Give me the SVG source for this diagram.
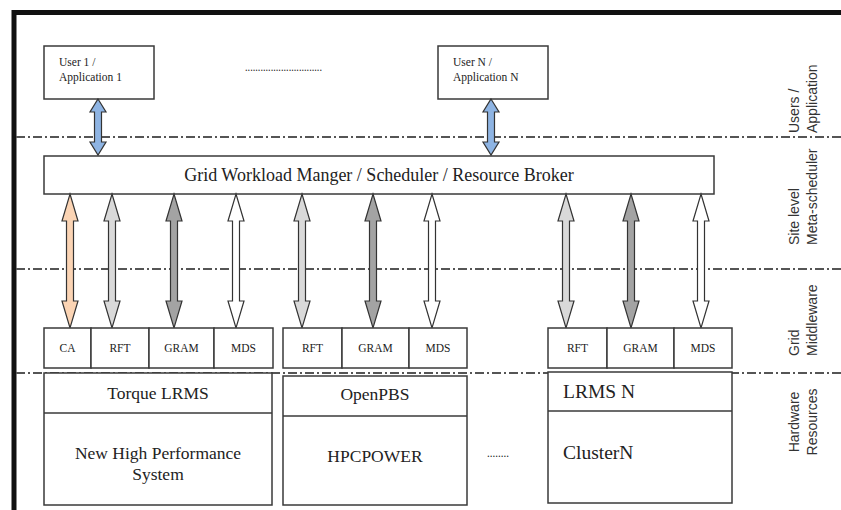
<svg xmlns="http://www.w3.org/2000/svg" width="841" height="510" viewBox="0 0 841 510">
<style>
.box{fill:#fff;stroke:#3a3a3a;stroke-width:1.5}
.sep{fill:none;stroke:#555;stroke-width:2;stroke-dasharray:9 3 2 3}
.t{font-family:"Liberation Serif","Times New Roman",serif;fill:#222}
.s{font-size:11.5px}
.m{font-size:11.5px;text-anchor:middle}
.l{font-size:17.5px;text-anchor:middle}
.lrms{font-size:19.5px}
.side{font-family:"Liberation Sans",Arial,sans-serif;font-size:14px;fill:#333}
.arr{stroke:#333;stroke-width:1.2;stroke-linejoin:miter}
.peach{fill:#fbd4b4}.lg{fill:#d9d9d9}.dg{fill:#a3a3a3}.wh{fill:#fff}.bl{fill:#8eb4e3}
</style>
<defs>
<path id="garrow" d="M0,0 L8,27 L3.5,27 L3.5,107 L8,107 L0,134 L-8,107 L-3.5,107 L-3.5,27 L-8,27 Z"/>
<path id="barrow" d="M0,0 L8,13 L3.5,13 L3.5,43 L8,43 L0,56 L-8,43 L-3.5,43 L-3.5,13 L-8,13 Z"/>
</defs>
<rect width="841" height="510" fill="#fff"/>
<path d="M14,510 V12.5 H841" fill="none" stroke="#111" stroke-width="5"/>
<g id="layer-separators">
<line class="sep" x1="16" y1="137" x2="841" y2="137"/>
<line class="sep" x1="16" y1="269" x2="841" y2="269"/>
<line class="sep" x1="16" y1="373" x2="841" y2="373"/>
</g>
<g id="user1">
<rect class="box" x="44" y="46" width="110" height="53"/>
<text class="t s" x="59" y="66">User 1 /</text>
<text class="t s" x="59" y="81">Application 1</text>
</g>
<g id="users-ellipsis">
<text class="t s" x="245" y="71" textLength="77" lengthAdjust="spacingAndGlyphs">..............................</text>
</g>
<g id="userN">
<rect class="box" x="438" y="46" width="110" height="53"/>
<text class="t s" x="453" y="66">User N /</text>
<text class="t s" x="453" y="81">Application N</text>
</g>
<g id="broker">
<rect class="box" x="44" y="156" width="670" height="38"/>
<text class="t" x="379" y="181" font-size="18" text-anchor="middle">Grid Workload Manger / Scheduler / Resource Broker</text>
</g>
<g id="connectors">
<use href="#barrow" class="arr bl" transform="translate(98,99)"/>
<use href="#barrow" class="arr bl" transform="translate(491,99)"/>
<use href="#garrow" class="arr peach" transform="translate(70,194)"/>
<use href="#garrow" class="arr lg" transform="translate(112,194)"/>
<use href="#garrow" class="arr dg" transform="translate(174,194)"/>
<use href="#garrow" class="arr wh" transform="translate(236,194)"/>
<use href="#garrow" class="arr lg" transform="translate(302,194)"/>
<use href="#garrow" class="arr dg" transform="translate(373,194)"/>
<use href="#garrow" class="arr wh" transform="translate(432,194)"/>
<use href="#garrow" class="arr lg" transform="translate(566,194)"/>
<use href="#garrow" class="arr dg" transform="translate(631,194)"/>
<use href="#garrow" class="arr wh" transform="translate(701,194)"/>
</g>
<g id="mw1">
<rect class="box" x="44" y="328" width="47" height="40"/>
<rect class="box" x="91" y="328" width="58" height="40"/>
<rect class="box" x="149" y="328" width="65" height="40"/>
<rect class="box" x="214" y="328" width="59" height="40"/>
<text class="t m" x="67.5" y="352">CA</text>
<text class="t m" x="120" y="352">RFT</text>
<text class="t m" x="181.5" y="352">GRAM</text>
<text class="t m" x="243.5" y="352">MDS</text>
</g>
<g id="mw2">
<rect class="box" x="283" y="328" width="59" height="40"/>
<rect class="box" x="342" y="328" width="67" height="40"/>
<rect class="box" x="409" y="328" width="58" height="40"/>
<text class="t m" x="312.5" y="352">RFT</text>
<text class="t m" x="375.5" y="352">GRAM</text>
<text class="t m" x="438" y="352">MDS</text>
</g>
<g id="mw3">
<rect class="box" x="548" y="328" width="59" height="40"/>
<rect class="box" x="607" y="328" width="67" height="40"/>
<rect class="box" x="674" y="328" width="58" height="40"/>
<text class="t m" x="577.5" y="352">RFT</text>
<text class="t m" x="640.5" y="352">GRAM</text>
<text class="t m" x="703" y="352">MDS</text>
</g>
<g id="site1">
<rect class="box" x="44" y="373" width="228" height="132"/>
<line class="box" x1="44" y1="413" x2="272" y2="413"/>
<text class="t l" x="158" y="399">Torque LRMS</text>
<text class="t l" x="158" y="459">New High Performance</text>
<text class="t l" x="158" y="480">System</text>
</g>
<g id="site2">
<rect class="box" x="283" y="376" width="184" height="129"/>
<line class="box" x1="283" y1="416" x2="467" y2="416"/>
<text class="t l" x="375" y="400">OpenPBS</text>
<text class="t l" x="375" y="462">HPCPOWER</text>
</g>
<g id="sites-ellipsis">
<text class="t s" x="487" y="457" textLength="22" lengthAdjust="spacingAndGlyphs">........</text>
</g>
<g id="site3">
<rect class="box" x="548" y="372" width="184" height="131"/>
<line class="box" x1="548" y1="411" x2="732" y2="411"/>
<text class="t lrms" x="563" y="398">LRMS N</text>
<text class="t lrms" x="563" y="459">ClusterN</text>
</g>
<g id="layer-labels">
<text class="side" transform="translate(799,133) rotate(-90)">Users /</text>
<text class="side" transform="translate(817,133) rotate(-90)">Application</text>
<text class="side" transform="translate(799,245) rotate(-90)">Site level</text>
<text class="side" transform="translate(817,245) rotate(-90)">Meta-scheduler</text>
<text class="side" transform="translate(799,356) rotate(-90)">Grid</text>
<text class="side" transform="translate(817,356) rotate(-90)">Middleware</text>
<text class="side" text-anchor="middle" transform="translate(799,422) rotate(-90)">Hardware</text>
<text class="side" text-anchor="middle" transform="translate(817,422) rotate(-90)">Resources</text>
</g>
</svg>
